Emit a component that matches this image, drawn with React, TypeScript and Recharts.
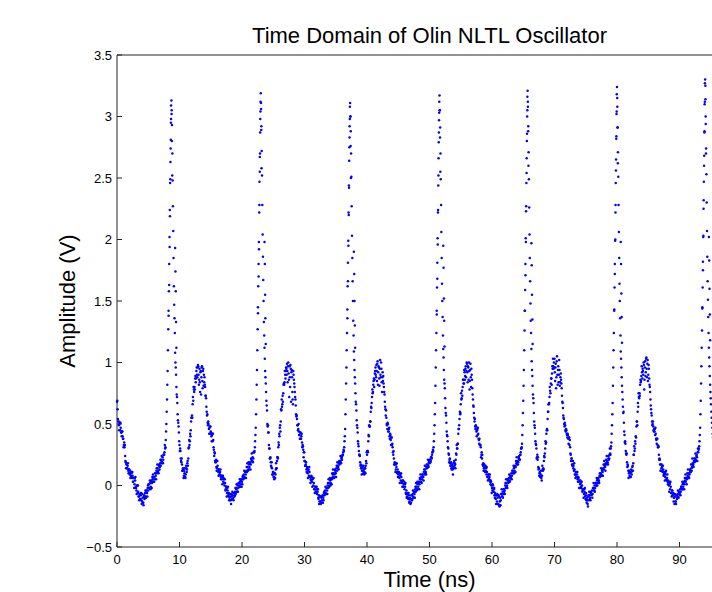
import { ScatterChart, Scatter, XAxis, YAxis, Label } from "recharts";

// sampled waveform, one value every 0.1 ns starting at t = 0 (one row = 1 ns)
const SAMPLE_NS = 0.1;
const amplitude = [
  0.68, 0.62, 0.52, 0.49, 0.5, 0.45, 0.47, 0.43, 0.44, 0.4, // 0
  0.38, 0.33, 0.31, 0.24, 0.19, 0.17, 0.14, 0.16, 0.12, 0.13,
  0.1, 0.12, 0.08, 0.1, 0.06, 0.08, 0.03, 0.06, 0.01, 0.04,
  -0.01, -0.04, 0.0, -0.06, -0.05, -0.09, -0.07, -0.11, -0.08, -0.12,
  -0.13, -0.1, -0.14, -0.09, -0.11, -0.06, -0.09, -0.04, -0.06, -0.02,
  -0.04, 0.01, -0.02, 0.02, -0.01, 0.04, 0.02, 0.05, 0.03, 0.07, // 5
  0.06, 0.1, 0.08, 0.12, 0.1, 0.14, 0.12, 0.16, 0.13, 0.18,
  0.16, 0.2, 0.18, 0.23, 0.21, 0.25, 0.27, 0.3, 0.37, 0.5,
  0.7, 0.93, 1.27, 1.58, 2.02, 2.46, 2.81, 3.13, 2.93, 2.48,
  2.07, 1.62, 1.36, 1.08, 0.96, 0.8, 0.72, 0.58, 0.51, 0.43,
  0.33, 0.3, 0.22, 0.19, 0.17, 0.12, 0.13, 0.08, 0.1, 0.07, // 10
  0.09, 0.14, 0.13, 0.2, 0.22, 0.31, 0.33, 0.42, 0.45, 0.55,
  0.57, 0.66, 0.69, 0.78, 0.8, 0.87, 0.84, 0.93, 0.9, 0.96,
  0.97, 0.82, 0.95, 0.76, 0.93, 0.88, 0.97, 0.79, 0.95, 0.9,
  0.88, 0.8, 0.73, 0.64, 0.57, 0.51, 0.52, 0.46, 0.47, 0.42,
  0.44, 0.4, 0.41, 0.36, 0.37, 0.29, 0.27, 0.2, 0.19, 0.15, // 15
  0.14, 0.16, 0.11, 0.13, 0.09, 0.11, 0.07, 0.08, 0.05, 0.07,
  0.03, 0.05, 0.0, 0.02, -0.03, -0.01, -0.06, -0.04, -0.08, -0.06,
  -0.1, -0.07, -0.12, -0.09, -0.11, -0.08, -0.1, -0.06, -0.09, -0.05,
  -0.07, -0.03, -0.05, 0.0, -0.02, 0.02, -0.01, 0.03, 0.01, 0.05,
  0.03, 0.07, 0.05, 0.09, 0.07, 0.11, 0.09, 0.12, 0.11, 0.15, // 20
  0.13, 0.17, 0.15, 0.19, 0.17, 0.21, 0.2, 0.23, 0.22, 0.27,
  0.28, 0.36, 0.47, 0.7, 0.94, 1.27, 1.62, 1.98, 2.47, 2.87,
  3.19, 2.92, 2.52, 2.04, 1.67, 1.33, 1.12, 0.93, 0.83, 0.69,
  0.61, 0.48, 0.43, 0.33, 0.3, 0.22, 0.19, 0.15, 0.14, 0.09,
  0.11, 0.07, 0.1, 0.06, 0.13, 0.14, 0.2, 0.23, 0.31, 0.33, // 25
  0.4, 0.49, 0.52, 0.61, 0.64, 0.73, 0.75, 0.83, 0.84, 0.9,
  0.93, 0.95, 0.99, 0.84, 1.0, 0.86, 0.97, 0.8, 0.95, 0.92,
  0.88, 0.7, 0.93, 0.86, 0.8, 0.72, 0.65, 0.56, 0.54, 0.49,
  0.46, 0.44, 0.41, 0.43, 0.38, 0.4, 0.35, 0.33, 0.29, 0.27,
  0.2, 0.16, 0.17, 0.13, 0.15, 0.1, 0.12, 0.08, 0.11, 0.07, // 30
  0.05, 0.08, 0.03, 0.05, 0.0, 0.02, -0.03, -0.01, -0.05, -0.03,
  -0.07, -0.05, -0.1, -0.08, -0.13, -0.09, -0.15, -0.1, -0.12, -0.08,
  -0.1, -0.06, -0.08, -0.04, -0.06, -0.02, -0.04, 0.0, -0.02, 0.02,
  0.0, 0.04, 0.02, 0.06, 0.05, 0.09, 0.07, 0.1, 0.09, 0.12,
  0.1, 0.14, 0.12, 0.16, 0.15, 0.18, 0.17, 0.2, 0.19, 0.22, // 35
  0.21, 0.25, 0.27, 0.28, 0.36, 0.46, 0.7, 0.96, 1.24, 1.62,
  1.99, 2.44, 2.83, 3.11, 2.88, 2.51, 2.03, 1.66, 1.34, 1.09,
  0.94, 0.83, 0.68, 0.61, 0.49, 0.43, 0.34, 0.28, 0.25, 0.19,
  0.17, 0.14, 0.12, 0.15, 0.1, 0.13, 0.11, 0.14, 0.16, 0.18,
  0.25, 0.28, 0.36, 0.4, 0.48, 0.52, 0.6, 0.63, 0.72, 0.75, // 40
  0.82, 0.87, 0.86, 0.93, 0.9, 0.98, 0.85, 1.01, 0.92, 0.96,
  0.81, 1.02, 0.88, 0.95, 0.76, 0.92, 0.89, 0.8, 0.74, 0.64,
  0.57, 0.55, 0.49, 0.51, 0.44, 0.46, 0.4, 0.42, 0.37, 0.39,
  0.33, 0.31, 0.25, 0.22, 0.17, 0.18, 0.13, 0.15, 0.11, 0.13,
  0.09, 0.11, 0.06, 0.08, 0.04, 0.07, 0.02, 0.04, -0.01, 0.01, // 45
  -0.03, -0.01, -0.06, -0.04, -0.09, -0.07, -0.11, -0.08, -0.13, -0.1,
  -0.11, -0.08, -0.12, -0.07, -0.09, -0.05, -0.07, -0.03, -0.05, -0.01,
  -0.03, 0.01, -0.01, 0.03, 0.01, 0.05, 0.03, 0.07, 0.05, 0.09,
  0.07, 0.11, 0.09, 0.13, 0.11, 0.15, 0.14, 0.17, 0.16, 0.19,
  0.18, 0.21, 0.2, 0.23, 0.25, 0.27, 0.28, 0.36, 0.49, 0.67, // 50
  0.96, 1.24, 1.61, 2.01, 2.44, 2.87, 3.17, 2.91, 2.49, 2.06,
  1.64, 1.37, 1.11, 0.94, 0.83, 0.71, 0.59, 0.51, 0.41, 0.36,
  0.3, 0.25, 0.21, 0.18, 0.16, 0.14, 0.17, 0.13, 0.15, 0.14,
  0.16, 0.17, 0.21, 0.25, 0.3, 0.34, 0.42, 0.46, 0.54, 0.58,
  0.66, 0.7, 0.77, 0.8, 0.86, 0.83, 0.92, 0.89, 0.97, 0.93, // 55
  0.99, 0.84, 0.96, 1.0, 0.78, 0.94, 0.88, 0.95, 0.86, 0.74,
  0.65, 0.59, 0.52, 0.48, 0.49, 0.44, 0.45, 0.41, 0.42, 0.37,
  0.38, 0.33, 0.31, 0.25, 0.22, 0.17, 0.18, 0.14, 0.15, 0.11,
  0.12, 0.09, 0.11, 0.07, 0.09, 0.05, 0.07, 0.03, 0.04, 0.0,
  -0.02, 0.01, -0.05, -0.03, -0.08, -0.06, -0.11, -0.08, -0.13, -0.1, // 60
  -0.15, -0.09, -0.17, -0.1, -0.12, -0.07, -0.09, -0.05, -0.07, -0.03,
  -0.04, 0.0, -0.02, 0.02, 0.0, 0.04, 0.02, 0.06, 0.04, 0.08,
  0.06, 0.1, 0.08, 0.12, 0.1, 0.14, 0.12, 0.16, 0.15, 0.18,
  0.17, 0.2, 0.19, 0.22, 0.21, 0.25, 0.27, 0.3, 0.34, 0.49,
  0.69, 0.94, 1.26, 1.59, 2.01, 2.46, 2.86, 3.21, 2.92, 2.49, // 65
  2.04, 1.66, 1.34, 1.11, 0.94, 0.81, 0.71, 0.59, 0.49, 0.42,
  0.34, 0.3, 0.23, 0.21, 0.15, 0.14, 0.1, 0.07, 0.09, 0.06,
  0.08, 0.13, 0.14, 0.2, 0.23, 0.3, 0.34, 0.42, 0.46, 0.54,
  0.6, 0.66, 0.72, 0.77, 0.83, 0.87, 0.91, 0.95, 0.97, 1.0,
  1.03, 0.85, 0.99, 0.88, 1.05, 0.82, 0.97, 0.9, 0.94, 0.84, // 70
  0.91, 0.83, 0.73, 0.67, 0.57, 0.54, 0.48, 0.49, 0.44, 0.45,
  0.41, 0.42, 0.38, 0.39, 0.33, 0.31, 0.25, 0.22, 0.17, 0.17,
  0.14, 0.12, 0.13, 0.09, 0.11, 0.07, 0.09, 0.05, 0.07, 0.03,
  0.04, 0.01, 0.02, -0.02, 0.0, -0.04, -0.03, -0.07, -0.05, -0.09,
  -0.08, -0.12, -0.1, -0.15, -0.09, -0.12, -0.08, -0.1, -0.06, -0.08, // 75
  -0.04, -0.07, -0.02, -0.04, 0.0, -0.02, 0.02, 0.0, 0.04, 0.02,
  0.06, 0.04, 0.08, 0.07, 0.1, 0.09, 0.12, 0.11, 0.14, 0.13,
  0.16, 0.15, 0.18, 0.17, 0.2, 0.19, 0.22, 0.21, 0.25, 0.26,
  0.3, 0.35, 0.49, 0.67, 0.96, 1.24, 1.61, 1.99, 2.46, 2.84,
  3.24, 2.91, 2.51, 2.06, 1.64, 1.36, 1.09, 0.96, 0.81, 0.7, // 80
  0.59, 0.51, 0.41, 0.36, 0.28, 0.25, 0.19, 0.17, 0.12, 0.1,
  0.08, 0.1, 0.07, 0.11, 0.12, 0.16, 0.18, 0.25, 0.28, 0.36,
  0.4, 0.48, 0.52, 0.6, 0.64, 0.72, 0.75, 0.82, 0.84, 0.89,
  0.92, 0.95, 0.9, 0.98, 0.86, 1.01, 0.92, 1.04, 0.88, 1.02,
  0.9, 0.95, 0.82, 0.76, 0.65, 0.59, 0.52, 0.5, 0.48, 0.44, // 85
  0.44, 0.41, 0.42, 0.37, 0.38, 0.33, 0.31, 0.25, 0.22, 0.17,
  0.17, 0.14, 0.15, 0.11, 0.13, 0.09, 0.1, 0.07, 0.09, 0.05,
  0.06, 0.03, 0.04, 0.0, 0.01, -0.03, -0.01, -0.06, -0.04, -0.08,
  -0.06, -0.1, -0.15, -0.09, -0.13, -0.08, -0.11, -0.07, -0.09, -0.05,
  -0.07, -0.03, -0.05, -0.01, -0.03, 0.01, -0.01, 0.03, 0.01, 0.04, // 90
  0.03, 0.06, 0.05, 0.08, 0.07, 0.1, 0.09, 0.12, 0.11, 0.14,
  0.15, 0.18, 0.17, 0.2, 0.19, 0.22, 0.21, 0.24, 0.23, 0.27,
  0.27, 0.3, 0.36, 0.47, 0.69, 0.97, 1.26, 1.61, 2.02, 2.47,
  2.88, 3.3, 2.94, 2.53, 2.07, 1.66, 1.37, 1.12, 0.97, 0.82,
  0.71, 0.6, 0.51, 0.42, 0.36, 0.29, 0.24, 0.21, 0.16, 0.13, // 95
];

// second, interleaved acquisition: one value every 0.1 ns starting at t = 0.05
const amplitudeMid = [
  0.69, 0.54, 0.52, 0.45, 0.51, 0.51, 0.43, 0.4, 0.44, 0.38, // 0
  0.31, 0.35, 0.33, 0.2, 0.14, 0.18, 0.14, 0.18, 0.1, 0.13,
  0.09, 0.06, 0.11, 0.07, 0.11, 0.03, 0.06, -0.02, 0.06, 0.07,
  -0.02, -0.07, 0.0, 0.0, -0.09, -0.12, -0.07, -0.11, -0.06, -0.15,
  -0.07, -0.14, -0.16, -0.08, -0.1, -0.04, -0.1, -0.04, -0.09, 0.0,
  0.01, -0.02, 0.04, -0.03, 0.03, -0.02, 0.07, 0.09, 0.03, 0.03, // 5
  0.05, 0.1, 0.05, 0.14, 0.17, 0.11, 0.1, 0.17, 0.15, 0.21,
  0.21, 0.24, 0.19, 0.18, 0.25, 0.25, 0.33, 0.31, 0.44, 0.6,
  0.82, 1.1, 1.42, 1.8, 2.24, 2.63, 2.98, 3.05, 2.7, 2.27,
  1.85, 1.47, 1.24, 1.0, 0.9, 0.74, 0.67, 0.53, 0.48, 0.36,
  0.28, 0.28, 0.2, 0.22, 0.12, 0.14, 0.06, 0.12, 0.14, 0.06, // 10
  0.16, 0.11, 0.18, 0.16, 0.3, 0.37, 0.36, 0.4, 0.52, 0.55,
  0.55, 0.72, 0.8, 0.76, 0.78, 0.89, 0.87, 0.96, 0.88, 0.98,
  0.9, 0.86, 0.84, 0.92, 0.74, 0.96, 0.85, 0.93, 0.81, 0.84,
  0.82, 0.73, 0.71, 0.6, 0.58, 0.49, 0.5, 0.42, 0.48, 0.48,
  0.43, 0.36, 0.42, 0.42, 0.31, 0.24, 0.26, 0.19, 0.21, 0.12, // 15
  0.2, 0.12, 0.08, 0.13, 0.09, 0.13, 0.05, 0.08, 0.01, 0.08,
  0.06, 0.02, 0.05, -0.04, -0.01, -0.09, -0.02, -0.01, -0.09, -0.12,
  -0.12, -0.09, -0.15, -0.07, -0.05, -0.11, -0.12, -0.06, -0.08, -0.02,
  -0.02, 0.01, -0.05, -0.05, 0.02, 0.0, 0.05, -0.01, 0.04, -0.01,
  0.01, 0.08, 0.06, 0.12, 0.06, 0.11, 0.06, 0.15, 0.18, 0.12, // 20
  0.19, 0.13, 0.18, 0.13, 0.22, 0.26, 0.2, 0.19, 0.27, 0.27,
  0.31, 0.41, 0.58, 0.82, 1.1, 1.45, 1.8, 2.22, 2.67, 3.04,
  3.06, 2.72, 2.28, 1.86, 1.5, 1.22, 1.03, 0.88, 0.76, 0.65,
  0.5, 0.49, 0.43, 0.3, 0.22, 0.23, 0.16, 0.19, 0.09, 0.11,
  0.07, 0.05, 0.1, 0.09, 0.18, 0.14, 0.23, 0.22, 0.35, 0.42, // 25
  0.47, 0.44, 0.62, 0.7, 0.66, 0.68, 0.82, 0.82, 0.93, 0.87,
  0.96, 0.9, 0.93, 0.97, 0.91, 0.72, 0.88, 0.98, 0.68, 0.94,
  0.76, 0.66, 0.9, 0.83, 0.76, 0.7, 0.58, 0.57, 0.49, 0.45,
  0.5, 0.41, 0.38, 0.43, 0.38, 0.42, 0.31, 0.32, 0.23, 0.27,
  0.2, 0.16, 0.19, 0.11, 0.14, 0.06, 0.13, 0.15, 0.07, 0.02, // 30
  0.04, 0.07, -0.01, 0.06, 0.06, -0.03, -0.06, -0.01, -0.05, -0.01,
  -0.03, -0.03, -0.11, -0.15, -0.09, -0.13, -0.09, -0.14, -0.09, -0.14,
  -0.12, -0.05, -0.07, -0.01, -0.07, -0.02, -0.07, 0.02, 0.05, -0.01,
  0.06, 0.0, 0.05, 0.01, 0.1, 0.13, 0.07, 0.06, 0.13, 0.1,
  0.07, 0.16, 0.19, 0.14, 0.13, 0.2, 0.18, 0.24, 0.18, 0.23, // 35
  0.24, 0.25, 0.29, 0.31, 0.4, 0.58, 0.83, 1.1, 1.43, 1.81,
  2.22, 2.64, 2.98, 3.0, 2.7, 2.27, 1.85, 1.5, 1.22, 1.02,
  0.88, 0.75, 0.66, 0.53, 0.47, 0.36, 0.32, 0.25, 0.24, 0.16,
  0.14, 0.09, 0.16, 0.12, 0.16, 0.09, 0.14, 0.1, 0.2, 0.27,
  0.28, 0.27, 0.41, 0.49, 0.48, 0.52, 0.64, 0.67, 0.78, 0.76, // 40
  0.85, 0.8, 0.91, 0.96, 0.88, 0.93, 0.99, 0.82, 0.97, 0.87,
  0.95, 0.9, 1.0, 0.84, 0.88, 0.85, 0.83, 0.76, 0.68, 0.62,
  0.61, 0.5, 0.46, 0.5, 0.44, 0.47, 0.38, 0.41, 0.33, 0.39,
  0.34, 0.27, 0.28, 0.17, 0.19, 0.11, 0.17, 0.18, 0.1, 0.07,
  0.07, 0.1, 0.02, 0.09, 0.1, 0.03, -0.01, 0.04, -0.01, 0.03, // 45
  0.01, 0.02, -0.07, -0.1, -0.06, -0.1, -0.06, -0.14, -0.11, -0.15,
  -0.14, -0.08, -0.11, -0.04, -0.1, -0.05, -0.1, -0.01, 0.02, -0.04,
  0.03, -0.03, 0.02, -0.03, 0.06, 0.09, 0.03, 0.02, 0.09, 0.07,
  0.04, 0.13, 0.16, 0.1, 0.09, 0.17, 0.15, 0.21, 0.15, 0.2,
  0.21, 0.19, 0.23, 0.22, 0.27, 0.29, 0.31, 0.42, 0.58, 0.81, // 50
  1.1, 1.42, 1.81, 2.22, 2.66, 3.03, 3.05, 2.7, 2.28, 1.85,
  1.5, 1.22, 1.04, 0.86, 0.79, 0.63, 0.57, 0.44, 0.4, 0.31,
  0.26, 0.19, 0.22, 0.16, 0.19, 0.13, 0.16, 0.09, 0.18, 0.2,
  0.18, 0.14, 0.26, 0.33, 0.3, 0.34, 0.46, 0.49, 0.6, 0.59,
  0.75, 0.71, 0.73, 0.86, 0.83, 0.94, 0.86, 0.95, 0.88, 1.0, // 55
  0.92, 0.97, 0.86, 0.93, 0.85, 0.99, 0.8, 0.9, 0.79, 0.7,
  0.64, 0.55, 0.54, 0.46, 0.48, 0.4, 0.46, 0.47, 0.38, 0.34,
  0.33, 0.33, 0.23, 0.27, 0.25, 0.16, 0.12, 0.17, 0.12, 0.16,
  0.14, 0.15, 0.07, 0.04, 0.09, 0.05, 0.09, 0.01, 0.03, -0.06,
  -0.04, 0.0, -0.05, -0.02, -0.1, -0.08, -0.15, -0.08, -0.07, -0.15, // 60
  -0.08, -0.16, -0.13, -0.16, -0.07, -0.03, -0.09, -0.1, -0.03, -0.05,
  -0.07, 0.02, 0.05, -0.01, -0.02, 0.05, 0.03, 0.09, 0.03, 0.08,
  0.06, 0.05, 0.12, 0.1, 0.16, 0.1, 0.15, 0.11, 0.2, 0.23,
  0.19, 0.17, 0.23, 0.24, 0.21, 0.25, 0.3, 0.31, 0.41, 0.59,
  0.81, 1.1, 1.42, 1.8, 2.23, 2.66, 3.05, 3.08, 2.71, 2.26, // 65
  1.85, 1.48, 1.24, 1.01, 0.89, 0.74, 0.67, 0.52, 0.47, 0.36,
  0.33, 0.22, 0.25, 0.23, 0.13, 0.08, 0.11, 0.07, 0.12, 0.04,
  0.16, 0.12, 0.13, 0.24, 0.26, 0.36, 0.35, 0.45, 0.45, 0.6,
  0.66, 0.67, 0.8, 0.75, 0.87, 0.82, 0.97, 1.03, 0.95, 0.96,
  0.92, 0.96, 0.79, 1.01, 0.9, 0.94, 0.84, 1.02, 0.81, 0.88, // 70
  0.86, 0.79, 0.68, 0.63, 0.55, 0.5, 0.51, 0.45, 0.46, 0.42,
  0.39, 0.41, 0.34, 0.39, 0.37, 0.26, 0.2, 0.22, 0.16, 0.2,
  0.16, 0.18, 0.09, 0.06, 0.11, 0.07, 0.11, 0.03, 0.06, -0.02,
  -0.02, 0.04, -0.01, 0.03, -0.05, -0.03, -0.1, -0.03, -0.02, -0.11,
  -0.06, -0.14, -0.12, -0.17, -0.08, -0.05, -0.11, -0.12, -0.05, -0.07, // 75
  -0.1, -0.02, 0.02, -0.04, -0.05, 0.02, 0.0, 0.06, 0.0, 0.05,
  0.03, 0.02, 0.1, 0.08, 0.14, 0.08, 0.13, 0.08, 0.17, 0.2,
  0.17, 0.12, 0.21, 0.24, 0.18, 0.17, 0.24, 0.22, 0.3, 0.25,
  0.32, 0.42, 0.58, 0.81, 1.1, 1.42, 1.8, 2.22, 2.65, 3.04,
  3.08, 2.71, 2.28, 1.85, 1.5, 1.22, 1.03, 0.88, 0.76, 0.64, // 80
  0.6, 0.44, 0.35, 0.34, 0.26, 0.26, 0.15, 0.16, 0.06, 0.12,
  0.11, 0.07, 0.13, 0.09, 0.15, 0.12, 0.25, 0.32, 0.3, 0.34,
  0.39, 0.52, 0.49, 0.67, 0.75, 0.71, 0.73, 0.86, 0.85, 0.97,
  0.87, 0.93, 1.0, 0.78, 0.96, 0.89, 1.03, 0.95, 0.99, 0.85,
  0.98, 0.87, 0.8, 0.7, 0.62, 0.57, 0.49, 0.52, 0.45, 0.46, // 85
  0.46, 0.47, 0.38, 0.34, 0.38, 0.31, 0.32, 0.21, 0.21, 0.12,
  0.12, 0.17, 0.12, 0.16, 0.08, 0.11, 0.04, 0.11, 0.12, 0.04,
  0.09, 0.01, 0.03, -0.05, 0.02, 0.03, -0.06, -0.09, -0.04, -0.08,
  -0.13, -0.1, -0.07, -0.13, -0.15, -0.08, -0.1, -0.04, -0.1, -0.05,
  -0.07, -0.08, -0.01, -0.03, 0.03, -0.03, 0.02, -0.03, 0.06, 0.09, // 90
  0.06, 0.01, 0.1, 0.13, 0.07, 0.06, 0.13, 0.11, 0.17, 0.12,
  0.22, 0.16, 0.15, 0.22, 0.2, 0.26, 0.2, 0.25, 0.2, 0.3,
  0.29, 0.32, 0.41, 0.58, 0.83, 1.12, 1.44, 1.82, 2.25, 2.68,
  3.12, 3.14, 2.74, 2.3, 1.86, 1.51, 1.24, 1.04, 0.89, 0.76,
  0.66, 0.55, 0.47, 0.39, 0.32, 0.26, 0.22, 0.18, 0.15, 0.12, // 95
];

// extra samples caught on the fast edges of each spike: [time ns, amplitude V]
const spikeSamples: [number, number][] = [
  [8.65, 3.09], [8.62, 2.95], [8.58, 2.74], [8.53, 2.49], [8.47, 2.19], [8.42, 1.94], [8.35, 1.63], [8.25, 1.38],
  [8.74, 3.02], [8.78, 2.8], [8.83, 2.52], [9.3, 1.93], [9.35, 1.74], [9.4, 1.58], [9.45, 1.33], [9.5, 1.12],
  [22.96, 3.12], [22.92, 2.98], [22.88, 2.7], [22.84, 2.55], [22.78, 2.28], [22.72, 1.92], [22.65, 1.7], [22.56, 1.4],
  [23.04, 3.11], [23.08, 2.89], [23.13, 2.58], [23.6, 1.98], [23.65, 1.8], [23.7, 1.55], [23.74, 1.36], [23.8, 1.15],
  [37.26, 3.08], [37.22, 2.92], [37.18, 2.75], [37.13, 2.42], [37.08, 2.2], [37.02, 1.95], [36.95, 1.66], [36.86, 1.36],
  [37.34, 3.0], [37.38, 2.76], [37.43, 2.5], [37.9, 1.9], [37.95, 1.72], [38.0, 1.5], [38.05, 1.3], [38.1, 1.12],
  [51.56, 3.12], [51.52, 2.97], [51.48, 2.79], [51.43, 2.52], [51.37, 2.24], [51.32, 1.96], [51.25, 1.68], [51.16, 1.39],
  [51.64, 3.05], [51.68, 2.83], [51.73, 2.55], [52.2, 1.95], [52.25, 1.77], [52.3, 1.52], [52.35, 1.34], [52.4, 1.13],
  [65.66, 3.16], [65.62, 3.0], [65.58, 2.8], [65.53, 2.54], [65.47, 2.27], [65.42, 1.98], [65.35, 1.71], [65.26, 1.42],
  [65.74, 3.12], [65.78, 2.88], [65.83, 2.6], [66.3, 1.97], [66.35, 1.79], [66.4, 1.55], [66.45, 1.35], [66.5, 1.15],
  [79.96, 3.18], [79.92, 3.02], [79.88, 2.82], [79.83, 2.56], [79.77, 2.28], [79.72, 2.0], [79.65, 1.72], [79.56, 1.43],
  [80.04, 3.15], [80.08, 2.91], [80.13, 2.62], [80.6, 1.98], [80.65, 1.8], [80.7, 1.56], [80.75, 1.37], [80.8, 1.16],
  [94.06, 3.27], [94.02, 3.1], [93.98, 2.87], [93.93, 2.6], [93.87, 2.32], [93.82, 2.03], [93.75, 1.75], [93.66, 1.45],
  [94.14, 3.25], [94.18, 3.0], [94.23, 2.7], [94.7, 2.02], [94.75, 1.83], [94.8, 1.6], [94.85, 1.39], [94.9, 1.18],
];

const timeTicks = [0, 10, 20, 30, 40, 50, 60, 70, 80, 90];
const ampTicks = [-0.5, 0, 0.5, 1, 1.5, 2, 2.5, 3, 3.5];

const FONT = '"Liberation Sans", Arial, Helvetica, sans-serif';
const AXIS = "#262626";
const DOT = "#0000ff";

const points = [
  ...amplitude.map((v, i) => ({ t: Math.round(i * SAMPLE_NS * 10) / 10, v })),
  ...amplitudeMid.map((v, i) => ({ t: Math.round(i * SAMPLE_NS * 100 + 5) / 100, v })),
  ...spikeSamples.map(([t, v]) => ({ t, v })),
];

const fmtAmp = (v: number) => (v < 0 ? `\u2212${Math.abs(v)}` : `${v}`);

function Dot(props: any) {
  const { cx, cy } = props;
  if (cx == null || cy == null) return null;
  return <circle cx={cx} cy={cy} r={1.25} fill={DOT} />;
}

export default function App() {
  return (
    <div
      style={{
        position: "fixed",
        left: 0,
        top: 0,
        width: 712,
        height: 592,
        overflow: "hidden",
        background: "#fff",
      }}
    >
      <div
        style={{
          position: "absolute",
          left: 117,
          top: 25,
          width: 625,
          textAlign: "center",
          fontFamily: FONT,
          fontSize: 22,
          lineHeight: "22px",
          color: "#000",
          whiteSpace: "nowrap",
        }}
      >
        Time Domain of Olin NLTL Oscillator
      </div>
      <ScatterChart width={800} height={592} margin={{ top: 54, right: 58, bottom: 0, left: 57 }}>
        <XAxis
          xAxisId="top"
          orientation="top"
          dataKey="t"
          type="number"
          domain={[0, 100]}
          ticks={timeTicks}
          height={1}
          tick={false}
          tickSize={-5}
          tickLine={{ stroke: AXIS }}
          axisLine={{ stroke: AXIS }}
        />
        <XAxis
          dataKey="t"
          type="number"
          domain={[0, 100]}
          ticks={timeTicks}
          height={45}
          tickSize={-5}
          tickMargin={13}
          tick={{ fill: "#000", fontSize: 13, fontFamily: FONT }}
          tickLine={{ stroke: AXIS }}
          axisLine={{ stroke: AXIS }}
        >
          <Label
            content={({ viewBox }: any) => (
              <text
                x={viewBox.x + viewBox.width / 2}
                y={viewBox.y + 40}
                textAnchor="middle"
                fontFamily={FONT}
                fontSize={22}
                fill="#000"
              >
                Time (ns)
              </text>
            )}
          />
        </XAxis>
        <YAxis
          dataKey="v"
          type="number"
          domain={[-0.5, 3.5]}
          ticks={ampTicks}
          width={60}
          tickSize={-5}
          tickMargin={10}
          tickFormatter={fmtAmp}
          tick={{ fill: "#000", fontSize: 13, fontFamily: FONT }}
          tickLine={{ stroke: AXIS }}
          axisLine={{ stroke: AXIS }}
        >
          <Label
            content={({ viewBox }: any) => {
              const cx = 75;
              const cy = viewBox.y + viewBox.height / 2;
              return (
                <text
                  x={cx}
                  y={cy}
                  transform={`rotate(-90 ${cx} ${cy})`}
                  textAnchor="middle"
                  fontFamily={FONT}
                  fontSize={22}
                  fill="#000"
                >
                  Amplitude (V)
                </text>
              );
            }}
          />
        </YAxis>
        <Scatter data={points} shape={<Dot />} isAnimationActive={false} />
      </ScatterChart>
    </div>
  );
}
